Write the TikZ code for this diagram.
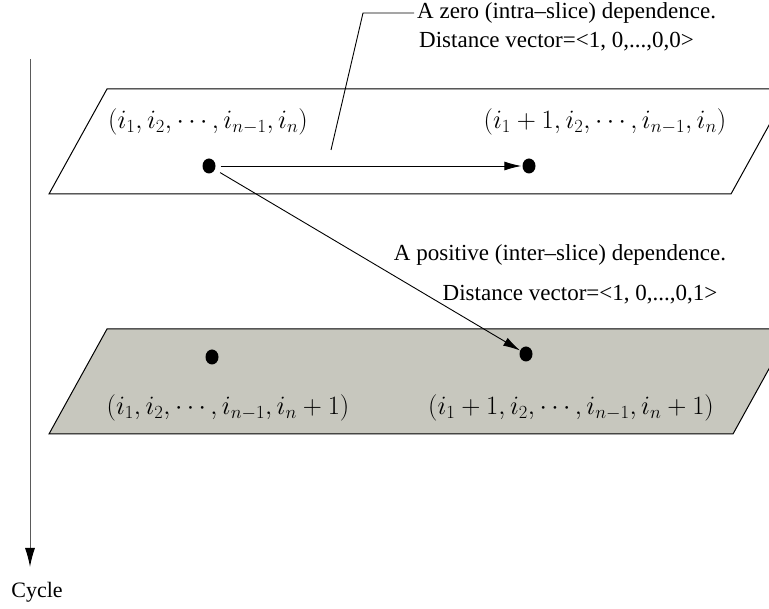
\RequirePackage{fix-cm}
\documentclass[tikz,border=0pt]{standalone}
\usepackage[no-math]{fontspec}
\setmainfont{Liberation Serif}
\usetikzlibrary{arrows.meta,shapes.geometric}
\definecolor{slicegray}{RGB}{199,199,190}
\definecolor{axisgray}{RGB}{90,90,90}
\begin{document}
\begin{tikzpicture}[x=1pt,y=-1pt,
  slice/.style={draw=black,line width=1pt,line join=miter},
  dot/.style={ellipse,fill=black,inner sep=0pt,minimum width=13pt,minimum height=15pt},
  lbl/.style={inner sep=0pt,font=\fontsize{23}{27}\selectfont},
  mlbl/.style={inner sep=0pt,font=\fontsize{26.5}{31}\selectfont},
  dep/.style={line width=0.9pt,-{Latex[length=17pt,width=9pt]}},
]
\useasboundingbox (0,0) rectangle (769,609);
\clip (0,0) rectangle (769,609);
% slices
\draw[slice,fill=white] (49,194) -- (731,194) -- (789,89) -- (107,89) -- cycle;
\draw[slice,fill=slicegray] (49,434) -- (733,434) -- (791,329) -- (107,329) -- cycle;
% labels on slices
\node[mlbl] (ta) at (208,122) {$(i_1, i_2, \cdots, i_{n-1}, i_n)$};
\node[mlbl] (tb) at (605,122) {$(i_1+1, i_2, \cdots, i_{n-1}, i_n)$};
\node[mlbl] (ba) at (228,408) {$(i_1, i_2, \cdots, i_{n-1}, i_n+1)$};
\node[mlbl] (bb) at (571,408) {$(i_1+1, i_2, \cdots, i_{n-1}, i_n+1)$};
% dots
\node[dot] (a) at (209,166) {};
\node[dot] (b) at (529,166) {};
\node[dot] (c) at (212,357) {};
\node[dot] (d) at (526,354) {};
% dependences
\draw[dep,shorten <=5pt,shorten >=1pt] (a) -- (b);
\draw[dep,shorten <=6pt] (a) -- (d);
% annotations
\node[lbl,anchor=west,inner xsep=3pt] (zt) at (414,13) {A zero (intra\textendash slice) dependence.};
\node[lbl,anchor=west] (zd) at (419,42) {Distance vector=<1, 0,...,0,0>};
\coordinate (l1) at (331,150);
\coordinate (l2) at (363,13);
\draw[line width=0.9pt] (l1) -- (l2) -- (zt.west);
\node[lbl] (pt) at (560,255) {A positive (inter\textendash slice) dependence.};
\node[lbl] (pd) at (580,295) {Distance vector=<1, 0,...,0,1>};
% cycle axis
\coordinate (c0) at (30,59);
\coordinate (c1) at (30,567);
\node[lbl,font=\fontsize{22}{26}\selectfont] (cyc) at (37,592) {Cycle};
\draw[axisgray,line width=1pt,-{Latex[length=19pt,width=10pt,fill=black,color=black]}] (c0) -- (c1);
\end{tikzpicture}
\end{document}
